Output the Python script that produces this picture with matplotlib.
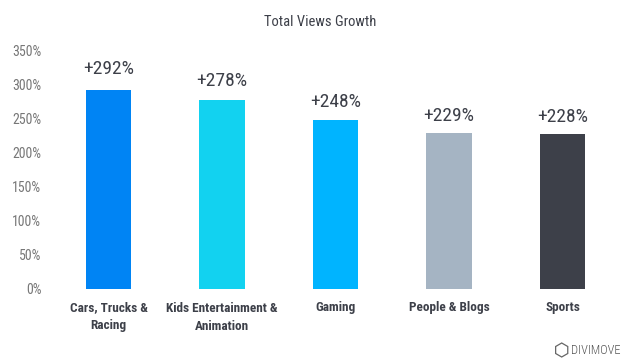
import matplotlib
matplotlib.use("Agg")
import matplotlib.pyplot as plt
from matplotlib.patches import RegularPolygon
from matplotlib.transforms import IdentityTransform

categories = ["Cars, Trucks &\nRacing", "Kids Entertainment &\nAnimation", "Gaming", "People & Blogs", "Sports"]
growth = [292, 278, 248, 229, 228]
colors = ["#0084F4", "#12D2F0", "#00B4FF", "#A5B4C3", "#3D4049"]
yticks = [0, 50, 100, 150, 200, 250, 300, 350]
label_pad = [9, 7, 7, 6, 6]

plt.rcParams["font.family"] = ["Roboto Condensed", "DejaVu Sans"]

W, H = 626, 364
fig = plt.figure(figsize=(W / 100, H / 100), dpi=100)
ax = fig.add_axes([51.75 / W, 1 - 289 / H, (619.25 - 51.75) / W, 238 / H])

x = range(len(categories))
ax.bar(x, growth, width=0.405, color=colors)
for xi, v, p in zip(x, growth, label_pad):
    ax.annotate(f"+{v}%", (xi, v), xytext=(0, p), textcoords="offset points",
                ha="center", va="bottom", fontsize=14, color="#3D4049")

ax.set_xlim(-0.5, 4.5)
ax.set_ylim(0, 350)
ax.set_yticks(yticks)
ax.set_yticklabels([f"{t}%" for t in yticks], fontsize=10, color="#777777")
ax.set_xticks(list(x))
ax.set_xticklabels(categories, fontsize=9.5, color="#3D4049", fontweight=700, linespacing=1.5)
ax.tick_params(axis="x", length=0, pad=9)
ax.tick_params(axis="y", length=0, pad=7.5)
for s in ax.spines.values():
    s.set_visible(False)

fig.text(320 / W, 1 - 22 / H, "Total Views Growth", ha="center", va="center",
         fontsize=10.5, color="#3D4049")

# logo
fig.text(570.5 / W, 1 - 350 / H, "DIVIMOVE", ha="left", va="center", fontsize=9,
         color="#555555", family=["Roboto Condensed", "DejaVu Sans"], fontweight=300)
fig.add_artist(RegularPolygon((561.7, H - 350), 6, radius=7, fill=False,
                              edgecolor="#666666", linewidth=0.9, transform=IdentityTransform()))

fig.savefig("out.png", dpi=100)
